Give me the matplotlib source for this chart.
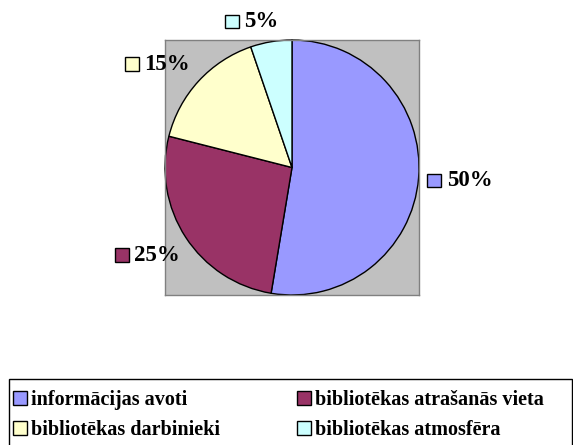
import numpy as np
import matplotlib
matplotlib.use("Agg")
import matplotlib.pyplot as plt
from matplotlib.patches import Rectangle, Patch
from matplotlib.offsetbox import AnnotationBbox, HPacker, DrawingArea, TextArea

categories = ["informācijas avoti", "bibliotēkas atrašanās vieta",
              "bibliotēkas darbinieki", "bibliotēkas atmosfēra"]
values = [50, 25, 15, 5]
labels = ["50%", "25%", "15%", "5%"]
colors = ["#9999FF", "#993366", "#FFFFCC", "#CCFFFF"]

# layout tweaks for label placement (pixels)
label_shift_px = [(-10, 0), (5, -2), (-3, -3), (-12, -9)]

FONT = "Liberation Serif"
W, H = 573, 445
fig = plt.figure(figsize=(W/100, H/100), dpi=100)
ax = fig.add_axes([165/W, 1-295/H, 254/W, 255/H])
wedges, _ = ax.pie(values, colors=colors, startangle=90, counterclock=False,
                   radius=1.0, frame=True,
                   wedgeprops=dict(edgecolor="black", linewidth=1.0))
ax.set_facecolor("#C0C0C0")
ax.set_xlim(-1.0, 1.0)
ax.set_ylim(-1.0, 1.0)
ax.set_aspect("auto")
ax.set_xticks([]); ax.set_yticks([])
for s in ax.spines.values():
    s.set_visible(True)
    s.set_edgecolor("#808080"); s.set_linewidth(1.0)

r_lab = 1.15
for w, lab, col, (dx, dy) in zip(wedges, labels, colors, label_shift_px):
    th = np.deg2rad((w.theta1 + w.theta2) / 2)
    x, y = r_lab*np.cos(th), r_lab*np.sin(th)
    da = DrawingArea(10, 10, 0, 0)
    da.add_artist(Rectangle((0, 0), 10, 10, facecolor=col, edgecolor="black", linewidth=1.0))
    ta = TextArea(lab, textprops=dict(fontfamily=FONT, fontweight="bold", fontsize=16.5))
    box = HPacker(children=[da, ta], align="center", pad=0, sep=4)
    xa = 0.5 - 0.5*np.cos(th)
    ya = 0.5 - 0.5*np.sin(th)
    ab = AnnotationBbox(box, (x, y), xycoords="data",
                        xybox=(dx*0.72, dy*0.72), boxcoords="offset points",
                        box_alignment=(xa, ya),
                        frameon=False, annotation_clip=False)
    ax.add_artist(ab)

# legend frame (extends past the bottom edge, as in the original)
fig.patches.append(Rectangle((9/W, -0.05), 563/W, (1-379/H)+0.05,
                             transform=fig.transFigure, facecolor="white",
                             edgecolor="black", linewidth=1.0, zorder=0))

order = [0, 2, 1, 3]
handles = [Patch(facecolor=colors[i], edgecolor="black", linewidth=1.0) for i in order]
leg_labels = [categories[i] for i in order]
leg = fig.legend(handles, leg_labels, ncol=2, loc="upper left",
                 bbox_to_anchor=(13/W, 1-390/H),
                 prop=dict(family=FONT, weight="bold", size=14.5),
                 frameon=False,
                 handlelength=0.7, handleheight=0.7, handletextpad=0.2,
                 borderaxespad=0, borderpad=0, labelspacing=0.5,
                 columnspacing=3.8)

fig.savefig("out.png", dpi=100, facecolor="white")
